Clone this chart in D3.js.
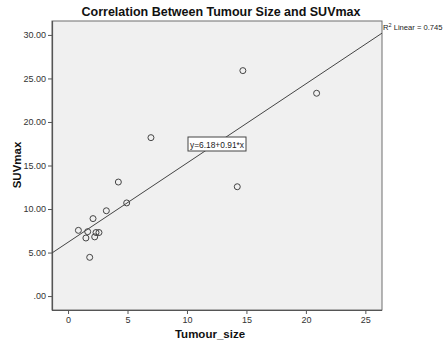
<!DOCTYPE html>
<html>
<head>
<meta charset="utf-8">
<script src="https://cdn.jsdelivr.net/npm/d3@7"></script>
<style>
  body { margin: 0; background: #fff; }
  text { font-family: "Liberation Sans", Arial, sans-serif; }
</style>
</head>
<body>
<svg id="chart" width="443" height="343"></svg>
<script>
// data
const tumourSize = [6.97, 4.23, 4.93, 3.22, 2.1, 0.87, 1.65, 2.35, 2.6, 1.5, 2.24, 1.82, 14.23, 14.7, 20.9];
const suvMax     = [18.2, 13.1, 10.7, 9.8, 8.9, 7.55, 7.4, 7.3, 7.3, 6.67, 6.8, 4.45, 12.56, 25.9, 23.3];
const xTicks = [0, 5, 10, 15, 20, 25];
const yTicks = [0, 5, 10, 15, 20, 25, 30];
const fitIntercept = 6.18;
const fitSlope = 0.91;
const rSquared = 0.745;

const svg = d3.select('#chart');

let plotLeft = 52, plotRight = 382, plotTop = 21, plotBottom = 310;

let x = d3.scaleLinear().domain([-1.35, 26.4]).range([plotLeft, plotRight]);
let y = d3.scaleLinear().domain([-1.6, 31.6]).range([plotBottom, plotTop]);

// plot background
svg.append('rect')
  .attr('x', plotLeft).attr('y', plotTop)
  .attr('width', plotRight - plotLeft).attr('height', plotBottom - plotTop)
  .attr('fill', '#f0f0f0')
  .attr('stroke', '#6e6e6e')
  .attr('stroke-width', 1);

// axes
let yAxis = svg.append('g')
  .attr('transform', 'translate(' + plotLeft + ',0)')
  .call(d3.axisLeft(y).tickValues(yTicks).tickSize(4).tickPadding(2)
    .tickFormat(d => d === 0 ? '.00' : d3.format('.2f')(d)));

let xAxis = svg.append('g')
  .attr('transform', 'translate(0,' + plotBottom + ')')
  .call(d3.axisBottom(x).tickValues(xTicks).tickSize(4).tickPadding(3));

[yAxis, xAxis].forEach(function (ax) {
  ax.select('.domain').attr('stroke', '#555').attr('stroke-width', 1.2);
  ax.selectAll('.tick line').attr('stroke', '#555');
  ax.selectAll('.tick text')
    .attr('fill', '#333')
    .style('font-size', '9px');
});
yAxis.select('.domain').attr('d', 'M0.5,' + plotTop + 'V' + plotBottom);
xAxis.select('.domain').attr('d', 'M' + plotLeft + ',0.5H' + plotRight);

// fit line across the frame
let x0 = x.domain()[0], x1 = x.domain()[1];
svg.append('line')
  .attr('x1', x(x0)).attr('y1', y(fitIntercept + fitSlope * x0))
  .attr('x2', x(x1)).attr('y2', y(fitIntercept + fitSlope * x1))
  .attr('stroke', '#444')
  .attr('stroke-width', 1);

// points
svg.append('g')
  .selectAll('circle')
  .data(tumourSize.map((d, i) => [d, suvMax[i]]))
  .enter()
  .append('circle')
  .attr('cx', d => x(d[0]))
  .attr('cy', d => y(d[1]))
  .attr('r', 3)
  .attr('fill', 'none')
  .attr('stroke', '#444')
  .attr('stroke-width', 1);

// equation label
let eq = svg.append('g');
eq.append('rect')
  .attr('x', 188).attr('y', 137)
  .attr('width', 58).attr('height', 14)
  .attr('fill', '#fff')
  .attr('stroke', '#444');
eq.append('text')
  .attr('x', 217).attr('y', 147.5)
  .attr('text-anchor', 'middle')
  .attr('textLength', 54)
  .attr('lengthAdjust', 'spacingAndGlyphs')
  .style('font-size', '8.5px')
  .attr('fill', '#222')
  .text('y=' + fitIntercept.toFixed(2) + '+' + fitSlope.toFixed(2) + '*x');

// R squared label
let r2 = svg.append('text')
  .attr('x', 383).attr('y', 30)
  .style('font-size', '7.6px')
  .attr('fill', '#222');
r2.append('tspan').text('R');
r2.append('tspan').attr('dy', -3).style('font-size', '5.5px').text('2');
r2.append('tspan').attr('dy', 3).text(' Linear = ' + rSquared);

// title and axis labels
svg.append('text')
  .attr('x', 221).attr('y', 16)
  .attr('text-anchor', 'middle')
  .style('font-size', '12.5px')
  .style('font-weight', 'bold')
  .attr('fill', '#111')
  .text('Correlation Between Tumour Size and SUVmax');

svg.append('text')
  .attr('x', 210).attr('y', 338)
  .attr('text-anchor', 'middle')
  .style('font-size', '11.5px')
  .style('font-weight', 'bold')
  .attr('fill', '#111')
  .text('Tumour_size');

svg.append('text')
  .attr('transform', 'translate(21,165) rotate(-90)')
  .attr('text-anchor', 'middle')
  .style('font-size', '11.5px')
  .style('font-weight', 'bold')
  .attr('fill', '#111')
  .text('SUVmax');
</script>
</body>
</html>
